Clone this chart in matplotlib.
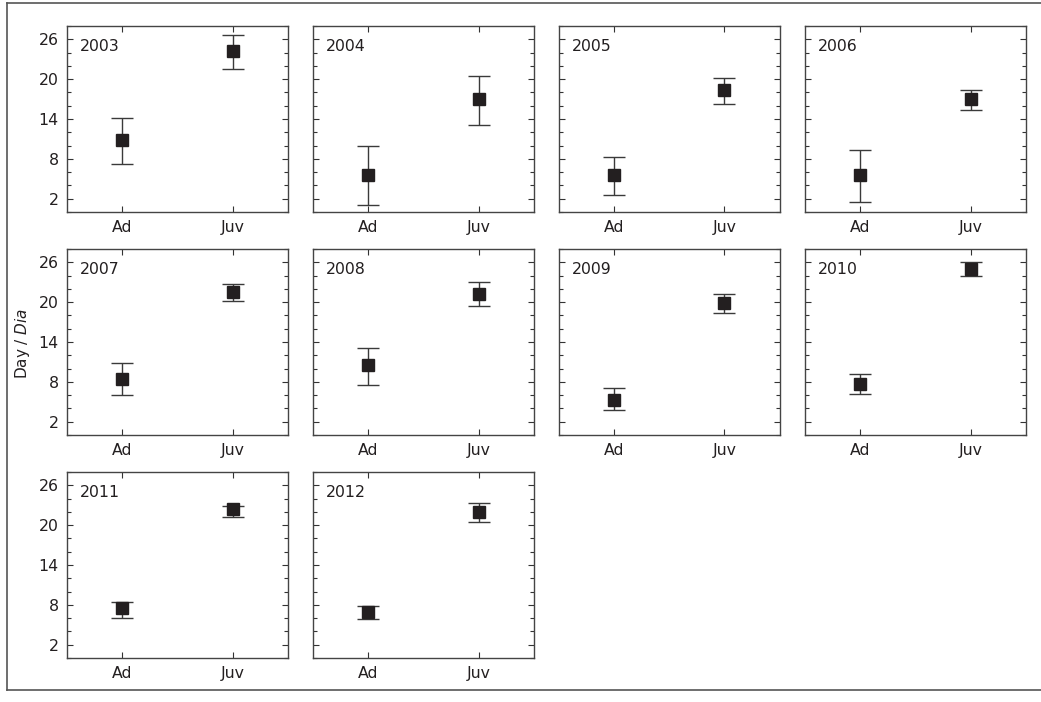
import matplotlib
matplotlib.use("Agg")
import matplotlib.pyplot as plt
from matplotlib.lines import Line2D
import numpy as np

years = ["2003", "2004", "2005", "2006", "2007", "2008", "2009", "2010", "2011", "2012"]
groups = ["Ad", "Juv"]

ad_mean = [10.8, 5.5, 5.6, 5.6, 8.4, 10.6, 5.3, 7.7, 7.5, 7.0]
ad_low = [7.3, 1.0, 2.6, 1.5, 6.0, 7.6, 3.7, 6.2, 6.0, 5.8]
ad_high = [14.2, 10.0, 8.3, 9.3, 10.9, 13.1, 7.1, 9.2, 8.4, 7.8]

juv_mean = [24.3, 17.0, 18.4, 17.0, 21.5, 21.3, 19.9, 25.0, 22.4, 22.0]
juv_low = [21.5, 13.1, 16.3, 15.3, 20.2, 19.4, 18.4, 24.0, 21.2, 20.4]
juv_high = [26.7, 20.5, 20.2, 18.3, 22.7, 23.1, 21.3, 26.1, 22.9, 23.4]

major_ticks = [2, 8, 14, 20, 26]
minor_ticks = list(range(0, 29, 2))

W, H = 1041, 702
fig = plt.figure(figsize=(W / 100, H / 100), dpi=100)
plt.rcParams['font.family'] = ['DejaVu Sans']

col_x = [67, 313, 558.5, 805]
row_y = [26, 249, 472]
aw, ah = 221, 186

text_color = "#231f20"
for i, yr in enumerate(years):
    r, c = divmod(i, 4)
    ax = fig.add_axes([col_x[c] / W, 1 - (row_y[r] + ah) / H, aw / W, ah / H])
    means = [ad_mean[i], juv_mean[i]]
    lows = [ad_low[i], juv_low[i]]
    highs = [ad_high[i], juv_high[i]]
    yerr = np.array([[m - l for m, l in zip(means, lows)],
                     [h - m for m, h in zip(means, highs)]])
    ax.errorbar(range(len(groups)), means, yerr=yerr, fmt='s', color=text_color,
                ecolor="#3a3a3a", elinewidth=1.0, capsize=8.2, capthick=1.0,
                markersize=8.6, zorder=3)
    ax.set_xlim(-0.5, 1.5)
    ax.set_ylim(0, 28)
    ax.set_xticks(range(len(groups)))
    ax.set_yticks(major_ticks)
    ax.set_yticks(minor_ticks, minor=True)
    if c == 0:
        ax.set_yticklabels([str(t) for t in major_ticks])
    else:
        ax.set_yticklabels([])
    ax.set_xticklabels(groups)
    ax.tick_params(axis='both', which='both', direction='in', top=True, right=True,
                   labelsize=11.3, colors="#333333", labelcolor=text_color, width=0.8)
    ax.tick_params(axis='both', which='major', length=4, pad=6)
    ax.tick_params(axis='both', which='minor', length=3)
    ax.tick_params(axis='x', which='minor', top=False, bottom=False)
    for s in ax.spines.values():
        s.set_color("#444444")
        s.set_linewidth(1.0)
    ax.text(0.06, 0.93, yr, transform=ax.transAxes, ha='left', va='top',
            fontsize=11.3, color=text_color)

fig.text(23 / W, 1 - 343 / H, r"Day / $\mathit{Dia}$", rotation=90, ha='center',
         va='center', fontsize=11, color=text_color)

# outer frame
fx0, fy0, fy1 = 7 / W, 1 - 3 / H, 1 - 690 / H
for xs, ys in [([fx0, fx0], [fy1, fy0]), ([fx0, 1.0], [fy0, fy0]), ([fx0, 1.0], [fy1, fy1])]:
    fig.add_artist(Line2D(xs, ys, transform=fig.transFigure, color="#555555", linewidth=1.2))

fig.savefig("out.png", dpi=100)
